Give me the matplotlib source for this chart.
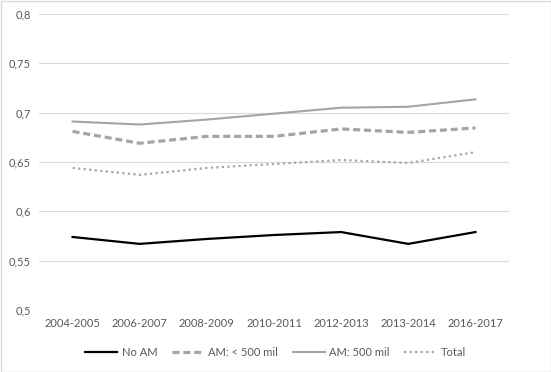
import matplotlib
matplotlib.use("Agg")
import matplotlib.pyplot as plt
from matplotlib.patches import Rectangle

categories = ["2004-2005", "2006-2007", "2008-2009", "2010-2011", "2012-2013", "2013-2014", "2016-2017"]
no_am = [0.574, 0.567, 0.572, 0.576, 0.579, 0.567, 0.579]
am_lt500 = [0.681, 0.669, 0.676, 0.676, 0.6835, 0.680, 0.6845]
am_500 = [0.691, 0.688, 0.693, 0.699, 0.705, 0.706, 0.7135]
total = [0.644, 0.637, 0.644, 0.648, 0.652, 0.649, 0.660]
yticks = [0.5, 0.55, 0.6, 0.65, 0.7, 0.75, 0.8]
ytick_labels = ["0,5", "0,55", "0,6", "0,65", "0,7", "0,75", "0,8"]

plt.rcParams['font.family'] = ['Lato', 'DejaVu Sans']
fig = plt.figure(figsize=(5.51, 3.72), dpi=100)
ax = fig.add_axes([39/551, 1-310/372, 470/551, (310-14)/372])

x = list(range(len(categories)))
ax.plot(x, no_am, color='black', lw=1.6, label='No AM')
ax.plot(x, am_lt500, color='#a5a5a5', lw=2.3, ls=(0, (2.2, 1.2)), label='AM: < 500 mil')
ax.plot(x, am_500, color='#a5a5a5', lw=1.5, label='AM: 500 mil')
ax.plot(x, total, color='#a5a5a5', lw=1.6, ls=(0, (1, 1.5)), label='Total')

ax.set_xlim(-0.5, len(categories) - 0.5)
ax.set_ylim(0.5, 0.8)
ax.set_yticks(yticks)
ax.set_yticklabels(ytick_labels)
ax.set_xticks(x)
ax.set_xticklabels(categories)
ax.grid(axis='y', color='#d9d9d9', lw=0.8)
ax.set_axisbelow(True)
for s in ax.spines.values():
    s.set_visible(False)
ax.tick_params(length=0, labelsize=8, colors='#595959', pad=6)
ax.tick_params(axis='y', pad=6)

leg = fig.legend(loc='center', bbox_to_anchor=(0.5, 1-352/372), ncol=4, frameon=False,
                 fontsize=8, handlelength=2.9, columnspacing=1.3, handletextpad=0.4)
for t in leg.get_texts():
    t.set_color('#595959')

fig.patches.append(Rectangle((0.5/551, 0.5/372), 1-1/551, 1-1/372, transform=fig.transFigure,
                             fill=False, edgecolor='#d9d9d9', lw=1))
fig.savefig('out.png', dpi=100)
